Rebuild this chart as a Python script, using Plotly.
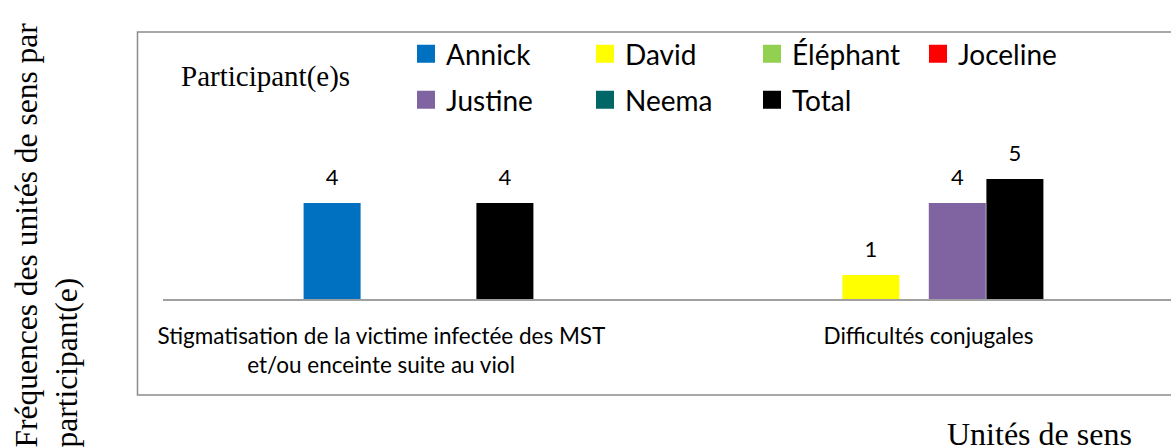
import plotly.graph_objects as go

# ---- data ----
categories = ["Stigmatisation", "Difficultés conjugales"]
tick_labels = [
    "Stigmatisation de la victime infectée des MST" + "\u00a0" * 13
    + "<br>et/ou enceinte suite au viol" + "\u00a0" * 13,
    "Difficultés conjugales",
]
participants = ["Annick", "David", "Éléphant", "Joceline", "Justine", "Neema", "Total"]
annick = [4, 0]
david = [0, 1]
elephant = [0, 0]
joceline = [0, 0]
justine = [0, 4]
neema = [0, 0]
total = [4, 5]
series_values = [annick, david, elephant, joceline, justine, neema, total]
colors = ["#0070C0", "#FFFF00", "#92D050", "#FF0000", "#8064A2", "#006666", "#000000"]

# ---- geometry ----
W, H = 1171, 448
ML, MR, MT, MB = 163, 0, 40, 149
PW, PH = W - ML - MR, H - MT - MB
GAP = 0.6047


def px_x(p):
    return (p - ML) / PW


def px_y(p):
    return (H - MB - p) / PH


fig = go.Figure()

for name, vals, col in zip(participants, series_values, colors):
    fig.add_trace(go.Bar(
        x=categories, y=vals, name=name, showlegend=False, offsetgroup=name,
        marker=dict(color=col, line=dict(width=0)),
        width=0.1118, hoverinfo="skip",
    ))

# value labels (same grouping slots as the bars)
for name, vals in zip(participants, series_values):
    fig.add_trace(go.Scatter(
        x=categories, y=vals, mode="markers+text", showlegend=False,
        offsetgroup=name, orientation="v",
        text=[str(v) if v else "" for v in vals], textposition="top center",
        marker=dict(size=19, color="rgba(0,0,0,0)"),
        textfont=dict(family="Lato", size=22, color="black"),
        cliponaxis=False, hoverinfo="skip",
    ))

# legend entries (two rows)
row1 = {"Annick": 134, "David": 122, "Éléphant": 121, "Joceline": 0}
row2 = {"Justine": 134, "Neema": 122, "Total": 121}
for name, col in zip(participants, colors):
    lg = "legend" if name in row1 else "legend2"
    lw = row1.get(name, row2.get(name))
    fig.add_trace(go.Scatter(
        x=[None], y=[None], mode="markers", name=name, legend=lg,
        offsetgroup=name, orientation="v",
        marker=dict(symbol="square", size=16, color=col, line=dict(width=2, color=col)),
        legendwidth=lw if lw else None, hoverinfo="skip",
    ))

legend_font = dict(family="Lato", size=28, color="black")
fig.update_layout(
    width=W, height=H,
    margin=dict(l=ML, r=MR, t=MT, b=MB, pad=0),
    paper_bgcolor="white", plot_bgcolor="white",
    barmode="group", bargap=GAP, bargroupgap=0,
    scattermode="group", scattergap=GAP,
    font=dict(family="Lato", size=22, color="black"),
    legend=dict(orientation="h", x=px_x(406), y=px_y(29), xanchor="left", yanchor="top",
                bgcolor="rgba(0,0,0,0)", font=legend_font, itemclick=False),
    legend2=dict(orientation="h", x=px_x(406), y=px_y(75), xanchor="left", yanchor="top",
                 bgcolor="rgba(0,0,0,0)", font=legend_font, itemclick=False),
    xaxis=dict(
        type="category", range=[-0.501, 1.4755],
        tickvals=categories, ticktext=tick_labels,
        showline=True, linecolor="#a0a0a0", linewidth=1.5,
        ticks="outside", ticklen=16, tickcolor="rgba(0,0,0,0)",
        tickfont=dict(family="Lato", size=22.5, color="black"),
        showgrid=False, zeroline=False,
    ),
    yaxis=dict(
        range=[0, PH / 24], showticklabels=False, showgrid=False,
        zeroline=False, showline=False, ticks="",
    ),
    shapes=[dict(
        type="rect", xref="paper", yref="paper",
        x0=px_x(137.5), x1=px_x(1185), y0=px_y(395), y1=px_y(32),
        line=dict(color="#8c8c8c", width=1.5), fillcolor="rgba(0,0,0,0)", layer="above",
    )],
    annotations=[
        dict(text="Participant(e)s", xref="paper", yref="paper",
             x=px_x(179), y=px_y(58), xanchor="left", yanchor="top", showarrow=False,
             font=dict(family="Liberation Serif", size=29, color="black")),
        dict(text="Fréquences des unités de sens par<br>participant(e)", xref="paper", yref="paper",
             x=px_x(6), y=px_y(450), xanchor="left", yanchor="bottom", showarrow=False,
             textangle=-90, align="left",
             font=dict(family="Liberation Serif", size=31.5, color="black")),
        dict(text="Unités de sens", xref="paper", yref="paper",
             x=px_x(945), y=px_y(414), xanchor="left", yanchor="top", showarrow=False,
             font=dict(family="Liberation Serif", size=32, color="black")),
    ],
)

fig.write_html(
    "out.html",
    config={"displayModeBar": False},
    post_script="document.body.style.margin='0';document.body.style.overflow='hidden';",
)
